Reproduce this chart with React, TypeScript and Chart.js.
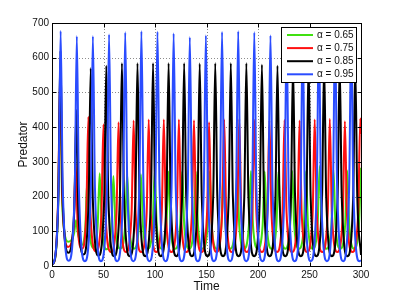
import React, { useEffect, useRef } from "react";
import { Chart, registerables } from "chart.js";

Chart.register(...registerables);

const seriesLabels = ["α = 0.65", "α = 0.75", "α = 0.85", "α = 0.95"];
const seriesColors = ["#40e010", "#ff1010", "#000000", "#2a4cff"];
const xTickStep = 50;
const yTickStep = 100;
const xRange = [0, 300];
const yRange = [0, 700];

// Keypoints (time, predator): troughs, flanks and peaks.
const green65: [number, number][] = [
  [0, 4], [3, 20], [6.0, 170], [8.0, 480], [10.0, 170], [15.6, 70], [21.5, 95], [23.3, 132], [25.1, 95],
  [28.8, 60], [32.3, 110], [34.3, 246], [36.3, 110], [40.3, 52], [44.3, 115], [46.3, 267], [48.3, 115],
  [53.0, 48], [57.65, 113], [59.65, 259], [61.65, 113], [66.3, 50], [71.0, 115], [73.0, 265], [75.0, 115],
  [79.7, 50], [84.35, 115], [86.35, 264], [88.35, 115], [93.0, 50], [97.7, 116], [99.7, 270], [101.7, 116],
  [106.4, 50], [111.05, 117], [113.05, 272], [115.05, 117], [119.7, 50], [124.4, 117], [126.4, 272], [128.4, 117],
  [133.1, 50], [137.75, 117], [139.75, 272], [141.75, 117], [146.4, 50], [151.1, 117], [153.1, 273], [155.1, 117],
  [159.8, 50], [164.45, 116], [166.45, 270], [168.45, 116], [173.1, 50], [177.8, 117], [179.8, 272], [181.8, 117],
  [186.5, 50], [191.15, 117], [193.15, 274], [195.15, 117], [199.8, 50], [204.5, 117], [206.5, 272], [208.5, 117],
  [213.2, 50], [217.85, 117], [219.85, 272], [221.85, 117], [226.5, 50], [231.2, 117], [233.2, 274], [235.2, 117],
  [239.9, 50], [244.55, 117], [246.55, 273], [248.55, 117], [253.2, 50], [257.9, 122], [259.9, 288], [261.9, 122],
  [266.6, 50], [271.25, 118], [273.25, 277], [275.25, 118], [279.9, 50], [284.6, 118], [286.6, 275], [288.6, 118],
  [293.3, 50], [298.0, 120], [300, 283],
];

const red75: [number, number][] = [
  [0, 4], [3, 22], [6.0, 200], [8.0, 560], [10.0, 200], [15.5, 55], [21.0, 110], [23.0, 296], [25.0, 110],
  [29.15, 50], [33.3, 155], [35.3, 430], [37.3, 155], [42.6, 42], [47.95, 148], [49.95, 408], [51.95, 148],
  [57.3, 40], [62.6, 150], [64.6, 414], [66.6, 150], [71.9, 40], [77.25, 152], [79.25, 419], [81.25, 152],
  [86.6, 40], [91.9, 152], [93.9, 422], [95.9, 152], [101.2, 40], [106.55, 152], [108.55, 422], [110.55, 152],
  [115.9, 40], [121.2, 152], [123.2, 422], [125.2, 152], [130.5, 40], [135.85, 152], [137.85, 420], [139.85, 152],
  [145.2, 40], [150.5, 150], [152.5, 414], [154.5, 150], [159.8, 40], [165.15, 152], [167.15, 422], [169.15, 152],
  [174.5, 40], [179.8, 153], [181.8, 424], [183.8, 153], [189.1, 40], [194.45, 152], [196.45, 421], [198.45, 152],
  [203.8, 40], [209.1, 152], [211.1, 420], [213.1, 152], [218.4, 40], [223.75, 152], [225.75, 421], [227.75, 152],
  [233.1, 40], [238.4, 152], [240.4, 419], [242.4, 152], [247.7, 40], [253.05, 152], [255.05, 422], [257.05, 152],
  [262.4, 40], [267.7, 153], [269.7, 424], [271.7, 153], [277.0, 40], [282.35, 151], [284.35, 417], [286.35, 151],
  [291.7, 40], [297.3, 153], [299.3, 425], [300, 380],
];

const black85: [number, number][] = [
  [0, 4], [3, 24], [6.2, 210], [8.2, 620], [10.2, 210], [15.8, 38], [21.6, 160], [23.6, 450], [25.6, 160],
  [30.6, 33], [35.6, 195], [37.6, 570], [39.6, 195], [45.15, 30], [50.7, 197], [52.7, 577], [54.7, 197],
  [60.3, 28], [65.9, 200], [67.9, 584], [69.9, 200], [75.45, 28], [81.0, 200], [83.0, 584], [85.0, 200],
  [90.55, 28], [96.1, 200], [98.1, 584], [100.1, 200], [105.65, 28], [111.2, 200], [113.2, 584], [115.2, 200],
  [120.75, 28], [126.3, 200], [128.3, 584], [130.3, 200], [135.85, 28], [141.4, 200], [143.4, 583], [145.4, 200],
  [150.95, 28], [156.5, 200], [158.5, 584], [160.5, 200], [166.05, 28], [171.6, 200], [173.6, 584], [175.6, 200],
  [181.15, 28], [186.7, 200], [188.7, 584], [190.7, 200], [196.25, 28], [201.8, 198], [203.8, 580], [205.8, 198],
  [211.35, 28], [216.9, 197], [218.9, 577], [220.9, 197], [226.45, 28], [232.0, 198], [234.0, 580], [236.0, 198],
  [241.55, 28], [247.1, 200], [249.1, 584], [251.1, 200], [256.65, 28], [262.2, 200], [264.2, 584], [266.2, 200],
  [271.75, 28], [277.3, 200], [279.3, 583], [281.3, 200], [286.85, 28], [292.4, 199], [294.4, 582], [296.4, 199],
  [300, 32],
];

const blue95: [number, number][] = [
  [0, 4], [3, 25], [6.4, 230], [8.4, 677], [10.4, 230], [16.25, 15], [22.1, 225], [24.1, 662], [26.1, 225],
  [31.9, 14], [37.7, 225], [39.7, 662], [41.7, 225], [47.55, 14], [53.4, 228], [55.4, 667], [57.4, 228],
  [63.25, 14], [69.1, 230], [71.1, 673], [73.1, 230], [78.95, 14], [84.8, 230], [86.8, 676], [88.8, 230],
  [94.6, 14], [100.4, 230], [102.4, 675], [104.4, 230], [110.25, 14], [116.1, 228], [118.1, 670], [120.1, 228],
  [125.95, 14], [131.8, 224], [133.8, 659], [135.8, 224], [141.6, 14], [147.4, 226], [149.4, 664], [151.4, 226],
  [157.25, 14], [163.1, 229], [165.1, 674], [167.1, 229], [172.95, 14], [178.8, 230], [180.8, 676], [182.8, 230],
  [188.6, 14], [194.4, 229], [196.4, 673], [198.4, 229], [204.25, 14], [210.1, 226], [212.1, 664], [214.1, 226],
  [219.95, 14], [225.8, 224], [227.8, 660], [229.8, 224], [235.6, 14], [241.4, 226], [243.4, 666], [245.4, 226],
  [251.25, 14], [257.1, 229], [259.1, 674], [261.1, 229], [266.95, 14], [272.8, 230], [274.8, 676], [276.8, 230],
  [282.65, 14], [288.5, 228], [290.5, 671], [292.5, 228], [298.35, 14], [300, 16],
];

const seriesData = [green65, red75, black85, blue95];

const FONT = "'Liberation Sans', Arial, Helvetica, sans-serif";

const framePlugin = {
  id: "matlabFrame",
  beforeDatasetsDraw(chart: any) {
    const { ctx, chartArea: a, scales } = chart;
    ctx.save();
    ctx.strokeStyle = "rgba(0,0,0,0.45)";
    ctx.lineWidth = 1;
    ctx.setLineDash([1, 2]);
    scales.x.ticks.forEach((t: any) => {
      if (t.value <= xRange[0] || t.value >= xRange[1]) return;
      const px = Math.round(scales.x.getPixelForValue(t.value)) + 0.5;
      ctx.beginPath();
      ctx.moveTo(px, a.top);
      ctx.lineTo(px, a.bottom);
      ctx.stroke();
    });
    scales.y.ticks.forEach((t: any) => {
      if (t.value <= yRange[0] || t.value >= yRange[1]) return;
      const py = Math.round(scales.y.getPixelForValue(t.value)) + 0.5;
      ctx.beginPath();
      ctx.moveTo(a.left, py);
      ctx.lineTo(a.right, py);
      ctx.stroke();
    });
    ctx.restore();
  },
  afterDatasetsDraw(chart: any) {
    const { ctx, chartArea: a, scales } = chart;
    ctx.save();
    ctx.strokeStyle = "#000";
    ctx.lineWidth = 1;
    ctx.setLineDash([]);
    const L = Math.round(a.left) + 0.5;
    const R = Math.round(a.right) + 0.5;
    const T = Math.round(a.top) + 0.5;
    const B = Math.round(a.bottom) + 0.5;
    ctx.strokeRect(L, T, R - L, B - T);
    const tl = 4;
    ctx.beginPath();
    scales.x.ticks.forEach((t: any) => {
      const px = Math.round(scales.x.getPixelForValue(t.value)) + 0.5;
      ctx.moveTo(px, B);
      ctx.lineTo(px, B - tl);
      ctx.moveTo(px, T);
      ctx.lineTo(px, T + tl);
    });
    scales.y.ticks.forEach((t: any) => {
      const py = Math.round(scales.y.getPixelForValue(t.value)) + 0.5;
      ctx.moveTo(L, py);
      ctx.lineTo(L + tl, py);
      ctx.moveTo(R, py);
      ctx.lineTo(R - tl, py);
    });
    ctx.stroke();

    // legend box
    const bx = Math.round(a.right) - 79.5;
    const by = T + 4;
    const bw = 75;
    const bh = 55;
    ctx.fillStyle = "#fff";
    ctx.fillRect(bx, by, bw, bh);
    ctx.strokeRect(bx, by, bw, bh);
    ctx.font = `10px ${FONT}`;
    ctx.textBaseline = "middle";
    ctx.textAlign = "left";
    chart.data.datasets.forEach((ds: any, i: number) => {
      const y = by + 7.5 + i * 13.1;
      ctx.strokeStyle = ds.borderColor;
      ctx.lineWidth = 2;
      ctx.beginPath();
      ctx.moveTo(bx + 5.5, y);
      ctx.lineTo(bx + 31.5, y);
      ctx.stroke();
      ctx.fillStyle = "#111";
      ctx.fillText(ds.label, bx + 35.5, y);
    });
    ctx.restore();
  },
};

export default function App() {
  const ref = useRef<HTMLCanvasElement>(null);
  useEffect(() => {
    document.body.style.margin = "0";
    if (!ref.current) return;
    const chart = new Chart(ref.current, {
      type: "line",
      data: {
        datasets: seriesData.map((pts, i) => ({
          label: seriesLabels[i],
          data: pts.map(([x, y]) => ({ x, y })),
          borderColor: seriesColors[i],
          backgroundColor: seriesColors[i],
          borderWidth: 2,
          pointRadius: 0,
          cubicInterpolationMode: "monotone" as const,
          fill: false,
          order: seriesData.length - i,
        })),
      },
      options: {
        animation: false,
        responsive: true,
        maintainAspectRatio: false,
        layout: { padding: { top: 23, right: 38, left: 0, bottom: 0 } },
        plugins: { legend: { display: false }, tooltip: { enabled: false } },
        scales: {
          x: {
            type: "linear",
            min: xRange[0],
            max: xRange[1],
            afterFit: (s: any) => {
              s.height = 34;
            },
            grid: { display: false, drawTicks: false },
            border: { display: false },
            ticks: {
              stepSize: xTickStep,
              padding: 3,
              maxRotation: 0,
              autoSkip: false,
              color: "#111",
              font: { family: FONT, size: 10 },
            },
            title: {
              display: true,
              text: "Time",
              color: "#111",
              font: { family: FONT, size: 12 },
              padding: { top: 0, bottom: 6 },
            },
          },
          y: {
            type: "linear",
            min: yRange[0],
            max: yRange[1],
            afterFit: (s: any) => {
              s.width = 52;
            },
            grid: { display: false, drawTicks: false },
            border: { display: false },
            ticks: {
              stepSize: yTickStep,
              padding: 3,
              color: "#111",
              font: { family: FONT, size: 10 },
            },
            title: {
              display: true,
              text: "Predator",
              color: "#111",
              font: { family: FONT, size: 12 },
              padding: { top: 16, bottom: 0 },
            },
          },
        },
      },
      plugins: [framePlugin],
    });
    return () => chart.destroy();
  }, []);
  return (
    <div style={{ position: "absolute", left: 0, top: 0, width: 399, height: 300 }}>
      <canvas ref={ref} />
    </div>
  );
}
